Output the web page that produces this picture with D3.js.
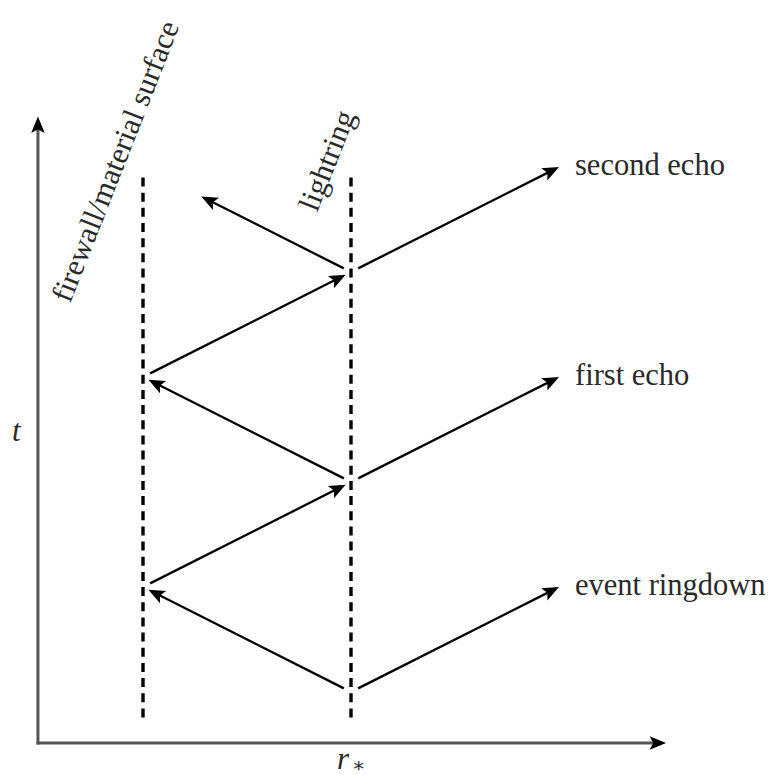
<!DOCTYPE html>
<html>
<head>
<meta charset="utf-8">
<script src="https://cdn.jsdelivr.net/npm/d3@7"></script>
<style>
  body { margin: 0; background: #fff; }
  svg { display: block; }
  text { font-family: "Liberation Serif", "DejaVu Serif", serif; fill: #2a2a2a; }
</style>
</head>
<body>
<div id="chart"></div>
<script>
(function () {
  'use strict';
  /* global d3 */

  var w = 780,
      h = 775;

  // surfaces: name, r position
  var surfaceNames = ['firewall/material surface', 'lightring'],
      surfaceR = [0, 1],
      surfaceSpan = [-0.25, 4.9];   // t extent of the dashed lines

  // rays in (r, t): start r, start t, end r, end t
  var rayR0 = [1, 1, 0, 1, 1, 0, 1, 1],
      rayT0 = [0, 0, 1, 2, 2, 3, 4, 4],
      rayR1 = [0, 2, 1, 0, 2, 1, 0.28, 2],
      rayT1 = [1, 1, 2, 3, 3, 4, 4.72, 5];

  // outgoing labels
  var echoNames = ['event ringdown', 'first echo', 'second echo'],
      echoR = [2, 2, 2],
      echoT = [1, 3, 5];

  // axis extents
  var rExtent = [-0.505, 2.515],
      tExtent = [-0.486, 5.48];

  var x = d3.scaleLinear().domain([0, 1]).range([143, 351]);
  var y = d3.scaleLinear().domain([0, 1]).range([692, 587]);

  var svg = d3.select('#chart').append('svg')
    .attr('width', w)
    .attr('height', h);

  var defs = svg.append('defs');
  defs.append('marker')
    .attr('id', 'head')
    .attr('markerUnits', 'userSpaceOnUse')
    .attr('viewBox', '-10 -8 20 16')
    .attr('markerWidth', 20)
    .attr('markerHeight', 16)
    .attr('refX', 0)
    .attr('refY', 0)
    .attr('orient', 'auto')
    .append('path')
    .attr('d', 'M8,0 L-8.5,-6.8 L-5,0 L-8.5,6.8 Z')
    .attr('fill', '#000');

  // shorten a segment: s0 px at start, s1 px at end
  function seg(x0, y0, x1, y1, s0, s1) {
    var dx = x1 - x0, dy = y1 - y0, len = Math.sqrt(dx * dx + dy * dy);
    var ux = dx / len, uy = dy / len;
    return [x0 + ux * s0, y0 + uy * s0, x1 - ux * s1, y1 - uy * s1];
  }

  // axes
  var axes = [
    seg(x(rExtent[0]), y(tExtent[0]), x(rExtent[0]), y(tExtent[1]), 0, 8),
    seg(x(rExtent[0]), y(tExtent[0]), x(rExtent[1]), y(tExtent[0]), 0, 8)
  ];
  svg.selectAll('line.axis')
    .data(axes)
    .enter()
    .append('line')
    .attr('class', 'axis')
    .attr('x1', function (d) { return d[0]; })
    .attr('y1', function (d) { return d[1]; })
    .attr('x2', function (d) { return d[2]; })
    .attr('y2', function (d) { return d[3]; })
    .attr('stroke', '#555')
    .attr('stroke-width', 3)
    .attr('stroke-linecap', 'square')
    .attr('marker-end', 'url(#head)');

  // dashed surfaces
  svg.selectAll('line.surface')
    .data(surfaceR)
    .enter()
    .append('line')
    .attr('class', 'surface')
    .attr('x1', function (d) { return x(d); })
    .attr('x2', function (d) { return x(d); })
    .attr('y1', y(surfaceSpan[1]))
    .attr('y2', y(surfaceSpan[0]))
    .attr('stroke', '#000')
    .attr('stroke-width', 3.4)
    .attr('stroke-dasharray', '9,6.17');

  // rays
  var rays = rayR0.map(function (r0, i) {
    var atSurf0 = surfaceR.indexOf(r0) >= 0,
        atSurf1 = surfaceR.indexOf(rayR1[i]) >= 0;
    return seg(x(r0), y(rayT0[i]), x(rayR1[i]), y(rayT1[i]),
      atSurf0 ? 8 : 0, (atSurf1 ? 6 : 0) + 8);
  });

  svg.selectAll('line.ray')
    .data(rays)
    .enter()
    .append('line')
    .attr('class', 'ray')
    .attr('x1', function (d) { return d[0]; })
    .attr('y1', function (d) { return d[1]; })
    .attr('x2', function (d) { return d[2]; })
    .attr('y2', function (d) { return d[3]; })
    .attr('stroke', '#000')
    .attr('stroke-width', 2.3)
    .attr('marker-end', 'url(#head)');

  // echo labels
  svg.selectAll('text.echo')
    .data(echoNames)
    .enter()
    .append('text')
    .attr('class', 'echo')
    .attr('x', function (d, i) { return x(echoR[i]) + 16; })
    .attr('y', function (d, i) { return y(echoT[i]) + 8; })
    .attr('font-size', 30.5)
    .text(function (d) { return d; });

  // surface labels (rotated)
  var surfLabelPos = [[70, 304], [317, 213]];
  svg.selectAll('text.surf')
    .data(surfaceNames)
    .enter()
    .append('text')
    .attr('class', 'surf')
    .attr('font-size', 30.5)
    .attr('transform', function (d, i) {
      return 'translate(' + surfLabelPos[i][0] + ',' + surfLabelPos[i][1] + ') rotate(-68.5)';
    })
    .text(function (d) { return d; });

  // axis labels
  svg.append('text')
    .attr('x', 12)
    .attr('y', 441)
    .attr('font-size', 31)
    .attr('font-style', 'italic')
    .text('t');

  var rl = svg.append('text')
    .attr('x', 337)
    .attr('y', 769)
    .attr('font-size', 31)
    .attr('font-style', 'italic');
  rl.append('tspan').text('r');
  rl.append('tspan')
    .attr('font-style', 'normal')
    .attr('font-size', 20)
    .attr('dx', 3)
    .attr('dy', 3)
    .text('\u2217');
}());
</script>
</body>
</html>
